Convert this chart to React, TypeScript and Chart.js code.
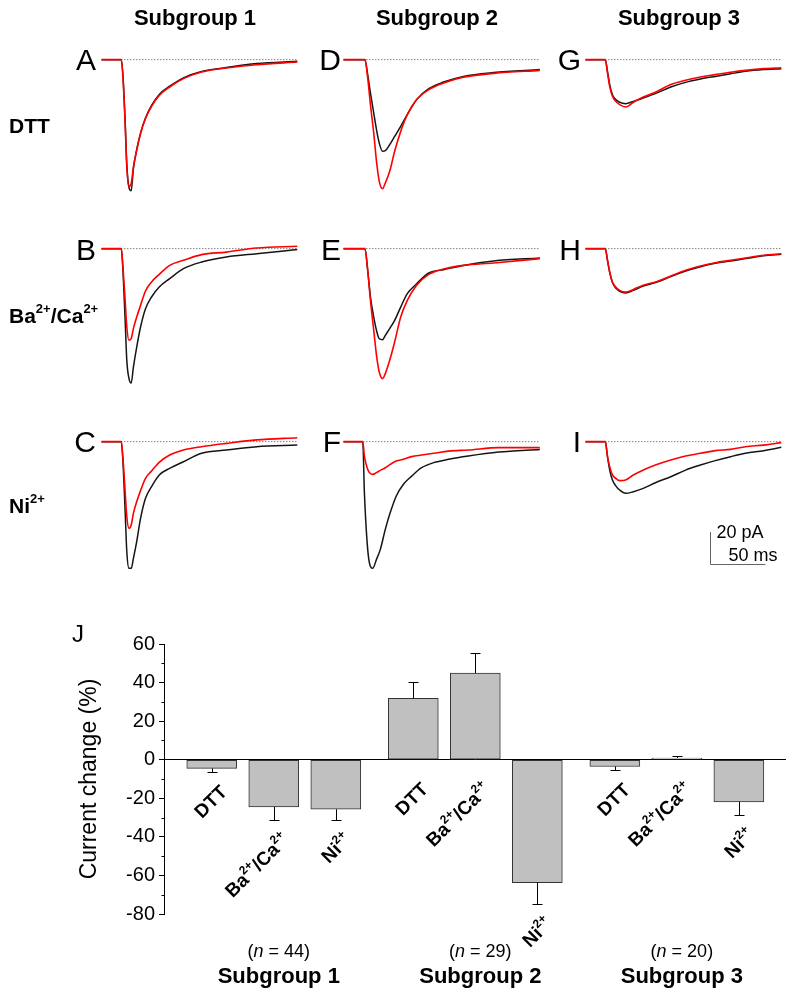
import React, { useEffect, useRef } from "react";
import { Chart, registerables } from "chart.js";

Chart.register(...registerables);

const FONT = "'Liberation Sans', Arial, Helvetica, sans-serif";

// ---------------- Current traces (time in ms, current in pA) ----------------
const TIME_SUB1 = [0, 18, 19.5, 21.5, 23, 25, 27, 29, 32, 35.5, 40, 45.5, 52.5, 62, 74.5, 91, 113.5, 141, 178];
const TIME_SUB2 = [0, 19.5, 22, 24.5, 27.5, 30, 32.5, 35.5, 38, 42, 46.5, 52, 58, 66.5, 77.5, 91, 109, 136.5, 178.5];
const TIME_F = [0, 17.5, 19, 21.5, 23.5, 26.5, 30, 33.5, 38, 42.5, 48, 54.5, 62, 71, 82, 95.5, 113.5, 141, 178.5];
const TIME_SUB3 = [0, 18, 20, 22, 24.5, 27.5, 31, 36.5, 43.5, 52.5, 63.5, 77.5, 91, 104.5, 118, 132, 145.5, 162, 178];

const A_CONTROL = [0, 0, -10, -39, -66, -81, -83, -69, -57, -46.5, -37, -29, -22, -16.8, -11.5, -7.5, -5, -2.5, -1];
const A_DRUG = [0, 0, -11, -40.5, -68, -80.2, -78.5, -68, -57.4, -46.8, -37.3, -29.6, -22.6, -17.3, -12, -7.8, -5.3, -3.2, -1.5];
const B_CONTROL = [0, 0, -13.7, -45.4, -70.7, -82.3, -85.1, -75, -62.3, -49.6, -38, -30.6, -24.3, -19, -12.7, -8.5, -5.3, -3.2, -0.6];
const B_DRUG = [0, 0, -11.6, -32.7, -49.6, -58, -57, -50.6, -43.3, -35.9, -26.8, -21.1, -16.3, -10.6, -7.4, -3.8, -2.2, 0.4, 1.5];
const C_CONTROL = [0, 0, -12.7, -44.3, -69.6, -80.2, -80.2, -73.9, -63.3, -48.6, -35.9, -28.5, -21.1, -16.9, -12.7, -7.4, -5.3, -3.2, -2.2];
const C_DRUG = [0, 0, -10.6, -31.7, -47.5, -54.9, -52.8, -45.4, -38, -31, -23.2, -18.6, -13.1, -8.5, -5.3, -3.2, -1.1, 1.1, 2.5];
const D_CONTROL = [0, 0, -9.5, -21.1, -33.8, -44.3, -52.8, -58, -57.6, -53.8, -48.6, -42.2, -34.8, -25.3, -18.4, -14.2, -10.6, -8.2, -6.3];
const D_DRUG = [0, 0, -11.6, -28.5, -46.5, -64.4, -77, -81.7, -78.1, -70.7, -58, -45.4, -34.8, -25.3, -19, -14.8, -11.2, -8.7, -6.8];
const E_CONTROL = [0, 0, -13.7, -30.6, -43.3, -51.7, -57, -57.6, -54.9, -50.6, -45.4, -37, -28.5, -22.2, -15.4, -13.3, -10.6, -7.8, -5.9];
const E_DRUG = [0, 0, -13.7, -32.7, -51.7, -67.5, -78.1, -82.3, -79.1, -70.7, -59.1, -43.3, -32.7, -23.2, -16.3, -12.9, -10.6, -9.1, -6.3];
const F_CONTROL = [0, 0, -32.3, -63.9, -76.6, -80.2, -74.5, -68.2, -55.5, -44.9, -34.4, -27, -21.8, -16.5, -13.3, -11.2, -9.1, -6.6, -4.9];
const F_DRUG = [0, 0, -9.1, -16.5, -19.6, -20.7, -19.6, -18.2, -16.5, -14.4, -12.3, -11.2, -9.5, -8.5, -7.4, -6, -5.3, -3.8, -3.8];
const G_CONTROL = [0, 0, -7.4, -15.8, -22.2, -25.3, -27, -27.9, -26.4, -24.3, -21.5, -17.3, -14.4, -12.3, -10.6, -8.9, -7.4, -6.3, -5.7];
const G_DRUG = [0, 0, -8.5, -16.9, -23.2, -26.4, -28.5, -30, -27, -23.7, -20.7, -15.8, -13.1, -11, -9.5, -8, -6.8, -5.7, -5.1];
const H_CONTROL = [0, 0, -7.4, -15, -21.5, -25, -27, -28, -26.4, -23.7, -21.5, -17.7, -14.2, -11.4, -9.3, -7.8, -6.3, -4.5, -3.5];
const H_DRUG = [0, 0, -7.4, -14.8, -21.1, -24.3, -26.4, -27.5, -25.8, -23.2, -21.1, -17.3, -13.7, -11, -8.9, -7.4, -5.9, -4.2, -3.2];
const I_CONTROL = [0, 0, -9.5, -18, -24.3, -28, -30.6, -32.7, -31.7, -29.6, -26, -22.2, -18, -14.8, -12, -9.5, -7.4, -5.7, -3.6];
const I_DRUG = [0, 0, -9.5, -15.8, -21.1, -23.2, -24.7, -24.3, -21.1, -18, -14.8, -11.6, -9.1, -7.4, -5.7, -4.9, -3.2, -2.2, -0.6];

const BASELINE_RANGE = [18, 178]; // ms, dotted zero-current line
const SCALE_BAR_MS = 50;
const SCALE_BAR_PA = 20;

// ---------------- Summary bar chart ----------------
const SUBGROUPS = ["Subgroup 1", "Subgroup 2", "Subgroup 3"];
const CONDITIONS = ["DTT", "Ba^{2+}/Ca^{2+}", "Ni^{2+}"];
const N_CELLS = [44, 29, 20];
const CHANGE_MEAN = [-4.5, -24.5, -25.7, 31.8, 44.9, -63.7, -3.5, 0.9, -21.9];
const CHANGE_SEM = [1.9, 6.6, 5.7, 8.5, 10.2, 10.9, 1.7, 1.0, 6.9];
const Y_MIN = -80;
const Y_MAX = 60;
const Y_STEP = 20;

// ---------------- layout ----------------
const PX_PER_MS = 1.1;
const PX_PER_PA = 1.58;
const T_MIN = -5;
const T_MAX = 185;
const I_MIN = -92;
const I_MAX = 8;
const COL_X0 = [101.5, 343.5, 585.5];
const ROW_Y0 = [59.5, 249, 441.5];
const LETTER_RIGHT = [96, 341, 581];

const PANELS = [
  { letter: "A", col: 0, row: 0, time: TIME_SUB1, control: A_CONTROL, drug: A_DRUG },
  { letter: "B", col: 0, row: 1, time: TIME_SUB1, control: B_CONTROL, drug: B_DRUG },
  { letter: "C", col: 0, row: 2, time: TIME_SUB1, control: C_CONTROL, drug: C_DRUG },
  { letter: "D", col: 1, row: 0, time: TIME_SUB2, control: D_CONTROL, drug: D_DRUG },
  { letter: "E", col: 1, row: 1, time: TIME_SUB2, control: E_CONTROL, drug: E_DRUG },
  { letter: "F", col: 1, row: 2, time: TIME_F, control: F_CONTROL, drug: F_DRUG },
  { letter: "G", col: 2, row: 0, time: TIME_SUB3, control: G_CONTROL, drug: G_DRUG },
  { letter: "H", col: 2, row: 1, time: TIME_SUB3, control: H_CONTROL, drug: H_DRUG },
  { letter: "I", col: 2, row: 2, time: TIME_SUB3, control: I_CONTROL, drug: I_DRUG, scaleBar: true },
];

type Piece = { text: string; sup: boolean };
function parseRich(s: string): Piece[] {
  const out: Piece[] = [];
  const re = /\^\{([^}]*)\}/g;
  let last = 0;
  let m: RegExpExecArray | null;
  while ((m = re.exec(s))) {
    if (m.index > last) out.push({ text: s.slice(last, m.index), sup: false });
    out.push({ text: m[1], sup: true });
    last = m.index + m[0].length;
  }
  if (last < s.length) out.push({ text: s.slice(last), sup: false });
  return out;
}

const scaleBarPlugin = {
  id: "scaleBar",
  afterDatasetsDraw(chart: any) {
    const { ctx } = chart;
    const xs = chart.scales.x;
    const ys = chart.scales.y;
    const t0 = 113.6;
    const i0 = -77.2;
    const x0 = Math.round(xs.getPixelForValue(t0)) + 0.5;
    const x1 = xs.getPixelForValue(t0 + SCALE_BAR_MS);
    const y0 = Math.round(ys.getPixelForValue(i0)) + 0.5;
    const y1 = ys.getPixelForValue(i0 + SCALE_BAR_PA);
    ctx.save();
    ctx.strokeStyle = "#666";
    ctx.lineWidth = 1;
    ctx.beginPath();
    ctx.moveTo(x0, y1);
    ctx.lineTo(x0, y0);
    ctx.lineTo(x1, y0);
    ctx.stroke();
    ctx.fillStyle = "#000";
    ctx.font = `18px ${FONT}`;
    ctx.textBaseline = "alphabetic";
    ctx.textAlign = "left";
    ctx.fillText(`${SCALE_BAR_PA} pA`, x0 + 6, y1 + 5.5);
    ctx.textAlign = "right";
    ctx.fillText(`${SCALE_BAR_MS} ms`, x1 + 12, y0 - 4);
    ctx.restore();
  },
};

function TracePanel({ panel }: { panel: any }) {
  const ref = useRef<HTMLCanvasElement>(null);
  const width = Math.round((T_MAX - T_MIN) * PX_PER_MS);
  const height = Math.round((I_MAX - I_MIN) * PX_PER_PA);
  const left = Math.round(COL_X0[panel.col] + T_MIN * PX_PER_MS);
  const top = Math.round(ROW_Y0[panel.row] - I_MAX * PX_PER_PA);
  useEffect(() => {
    const toPts = (arr: number[]) => panel.time.map((t: number, i: number) => ({ x: t, y: arr[i] }));
    const chart = new Chart(ref.current as HTMLCanvasElement, {
      type: "line",
      data: {
        datasets: [
          {
            data: toPts(panel.drug),
            borderColor: "#ff0000",
            borderWidth: 1.6,
            pointRadius: 0,
            cubicInterpolationMode: "monotone",
          } as any,
          {
            data: toPts(panel.control),
            borderColor: "#151515",
            borderWidth: 1.5,
            pointRadius: 0,
            cubicInterpolationMode: "monotone",
          },
          {
            data: [
              { x: BASELINE_RANGE[0], y: 0 },
              { x: BASELINE_RANGE[1], y: 0 },
            ],
            borderColor: "#444",
            borderWidth: 1,
            borderDash: [1, 2],
            pointRadius: 0,
          },
        ],
      },
      options: {
        responsive: false,
        animation: false,
        devicePixelRatio: 1,
        events: [],
        layout: { padding: 0, autoPadding: false },
        plugins: { legend: { display: false }, tooltip: { enabled: false } },
        scales: {
          x: { type: "linear", min: T_MIN, max: T_MAX, display: false },
          y: { type: "linear", min: I_MIN, max: I_MAX, display: false },
        },
      } as any,
      plugins: panel.scaleBar ? [scaleBarPlugin] : [],
    });
    return () => chart.destroy();
  }, []);
  return (
    <canvas
      ref={ref}
      width={width}
      height={height}
      style={{ position: "absolute", left, top, width, height }}
    />
  );
}

// bar x positions: conditions within a subgroup, with a small gap between subgroups
const GROUP_GAP = 0.25;
const BAR_POS = SUBGROUPS.flatMap((_, gi) => CONDITIONS.map((__, ci) => gi * (CONDITIONS.length + GROUP_GAP) + ci));
const X_MIN = -0.77;
const X_MAX = 9.26;

function drawRotatedLabel(ctx: CanvasRenderingContext2D, label: string, ax: number, ay: number) {
  const size = 19;
  const supSize = 12;
  const pieces = parseRich(label);
  const fontMain = `bold ${size}px ${FONT}`;
  const fontSup = `bold ${supSize}px ${FONT}`;
  let total = 0;
  const widths = pieces.map((p) => {
    ctx.font = p.sup ? fontSup : fontMain;
    const w = ctx.measureText(p.text).width;
    total += w;
    return w;
  });
  ctx.save();
  ctx.translate(ax, ay);
  ctx.rotate(-Math.PI / 4);
  ctx.textAlign = "left";
  ctx.textBaseline = "alphabetic";
  ctx.fillStyle = "#000";
  const base = size * 0.716;
  let x = -total;
  pieces.forEach((p, i) => {
    ctx.font = p.sup ? fontSup : fontMain;
    ctx.fillText(p.text, x, p.sup ? base - 8.5 : base);
    x += widths[i];
  });
  ctx.restore();
}

const barExtrasPlugin = {
  id: "barExtras",
  afterDatasetsDraw(chart: any) {
    const ctx: CanvasRenderingContext2D = chart.ctx;
    const xs = chart.scales.x;
    const ys = chart.scales.y;
    const zero = ys.getPixelForValue(0);
    const ax = chart.chartArea.left;
    ctx.save();
    ctx.strokeStyle = "#000";
    ctx.lineWidth = 1;
    // minor ticks
    for (let v = Y_MIN + Y_STEP / 2; v < Y_MAX; v += Y_STEP) {
      const py = Math.round(ys.getPixelForValue(v)) + 0.5;
      ctx.beginPath();
      ctx.moveTo(ax - 2.5, py);
      ctx.lineTo(ax, py);
      ctx.stroke();
    }
    // error bars + rotated category labels
    BAR_POS.forEach((p, i) => {
      const m = CHANGE_MEAN[i];
      const e = CHANGE_SEM[i];
      const dir = m >= 0 ? 1 : -1;
      const px = Math.round(xs.getPixelForValue(p)) + 0.5;
      const y0 = ys.getPixelForValue(m);
      const y1 = Math.round(ys.getPixelForValue(m + dir * e)) + 0.5;
      ctx.strokeStyle = "#000";
      ctx.beginPath();
      ctx.moveTo(px, y0);
      ctx.lineTo(px, y1);
      ctx.moveTo(px - 5, y1);
      ctx.lineTo(px + 5, y1);
      ctx.stroke();
      const below = dir < 0 ? y1 : zero;
      const ay = Math.max(zero + 21, below + 11);
      drawRotatedLabel(ctx, CONDITIONS[i % CONDITIONS.length], px + 6, ay);
    });
    // subgroup captions
    SUBGROUPS.forEach((g, gi) => {
      const cx = xs.getPixelForValue(gi * (CONDITIONS.length + GROUP_GAP) + 1) + 5;
      const pieces = [
        { t: "(", f: `18px ${FONT}` },
        { t: "n", f: `italic 18px ${FONT}` },
        { t: ` = ${N_CELLS[gi]})`, f: `18px ${FONT}` },
      ];
      let tw = 0;
      const ws = pieces.map((pc) => {
        ctx.font = pc.f;
        const w = ctx.measureText(pc.t).width;
        tw += w;
        return w;
      });
      let x = cx - tw / 2;
      ctx.fillStyle = "#000";
      ctx.textAlign = "left";
      ctx.textBaseline = "alphabetic";
      pieces.forEach((pc, k) => {
        ctx.font = pc.f;
        ctx.fillText(pc.t, x, 357);
        x += ws[k];
      });
      ctx.font = `bold 22px ${FONT}`;
      ctx.textAlign = "center";
      ctx.fillText(g, cx, 383);
    });
    ctx.restore();
  },
};

function BarPanel() {
  const ref = useRef<HTMLCanvasElement>(null);
  useEffect(() => {
    const chart = new Chart(ref.current as HTMLCanvasElement, {
      type: "bar",
      data: {
        datasets: [
          {
            data: BAR_POS.map((x, i) => ({ x, y: CHANGE_MEAN[i] })),
            backgroundColor: "#c0c0c0",
            borderColor: "#333",
            borderWidth: 1,
            borderSkipped: false,
            barThickness: 50,
          } as any,
        ],
      },
      options: {
        responsive: false,
        animation: false,
        devicePixelRatio: 1,
        events: [],
        layout: { padding: { left: 0, right: 14, top: 44, bottom: 84 }, autoPadding: false },
        plugins: { legend: { display: false }, tooltip: { enabled: false } },
        scales: {
          x: { type: "linear", min: X_MIN, max: X_MAX, display: false, offset: false },
          y: {
            type: "linear",
            min: Y_MIN,
            max: Y_MAX,
            ticks: { stepSize: Y_STEP, font: { size: 20, family: FONT }, color: "#000", padding: 4 },
            grid: {
              color: (c: any) => (c.tick && c.tick.value === 0 ? "#000" : "rgba(0,0,0,0)"),
              tickColor: "#000",
              tickLength: 5,
              lineWidth: 1,
            },
            border: { display: true, color: "#000", width: 1 },
            title: {
              display: true,
              text: "Current change (%)",
              font: { size: 23, family: FONT },
              color: "#000",
              padding: { top: 76, bottom: 0 },
            },
            afterFit: (s: any) => {
              s.width = 164;
            },
          },
        },
      } as any,
      plugins: [barExtrasPlugin],
    });
    return () => chart.destroy();
  }, []);
  return (
    <canvas ref={ref} width={800} height={398} style={{ position: "absolute", left: 0, top: 600, width: 800, height: 398 }} />
  );
}

function RichText({ label, x, y, size, bold, anchor, supRaise }: any) {
  const pieces = parseRich(label);
  let prevSup = false;
  return (
    <text x={x} y={y} fontSize={size} fontWeight={bold ? "bold" : "normal"} textAnchor={anchor || "start"} fontFamily={FONT} fill="#000">
      {pieces.map((p, i) => {
        let dy = 0;
        if (p.sup && !prevSup) dy = -supRaise;
        if (!p.sup && prevSup) dy = supRaise;
        prevSup = p.sup;
        return (
          <tspan key={i} dy={dy} fontSize={p.sup ? Math.round(size * 0.62) : size}>
            {p.text}
          </tspan>
        );
      })}
    </text>
  );
}

const ROW_LABEL_BASELINE = [133, 323, 513];

export default function App() {
  return (
    <div style={{ position: "absolute", left: 0, top: 0, width: 800, height: 998, background: "#fff", overflow: "hidden" }}>
      {PANELS.map((p) => (
        <TracePanel key={p.letter} panel={p} />
      ))}
      <BarPanel />
      <svg width={800} height={998} style={{ position: "absolute", left: 0, top: 0, pointerEvents: "none" }}>
        {SUBGROUPS.map((g, i) => (
          <text key={g} x={COL_X0[i] + 93.5} y={25} fontSize={22} fontWeight="bold" textAnchor="middle" fontFamily={FONT} fill="#000">
            {g}
          </text>
        ))}
        {CONDITIONS.map((c, i) => (
          <RichText key={c} label={c} x={9} y={ROW_LABEL_BASELINE[i]} size={21} bold supRaise={10} />
        ))}
        {PANELS.map((p) => (
          <text key={p.letter} x={LETTER_RIGHT[p.col]} y={ROW_Y0[p.row] + 10.5} fontSize={30} textAnchor="end" fontFamily={FONT} fill="#000">
            {p.letter}
          </text>
        ))}
        <text x={72} y={642} fontSize={24} fontFamily={FONT} fill="#000">
          J
        </text>
      </svg>
    </div>
  );
}
